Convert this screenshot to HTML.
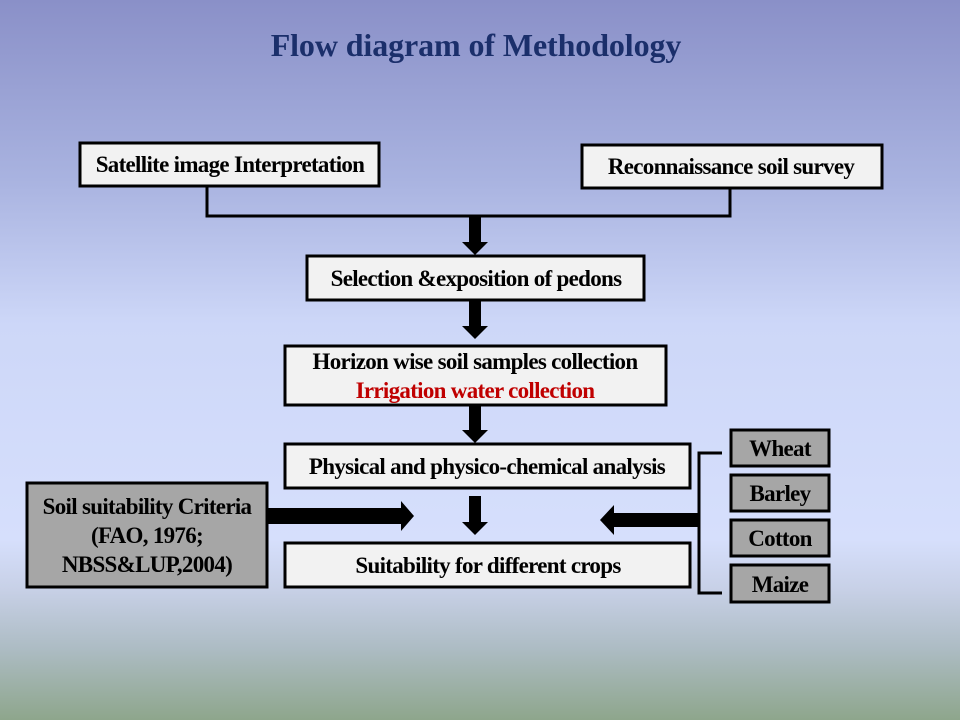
<!DOCTYPE html>
<html><head><meta charset="utf-8"><style>
html,body{margin:0;padding:0;width:960px;height:720px;overflow:hidden}
body{background:linear-gradient(to bottom,#8a90c8 0%,#a9b3e0 25%,#cdd7f8 45%,#d6dffc 75%,#c7d0e6 82%,#adbcc4 90%,#8ea68c 100%)}
svg text{font-family:"Liberation Serif",serif;font-weight:bold;letter-spacing:-0.7px}
</style></head><body>
<svg width="960" height="720" xmlns="http://www.w3.org/2000/svg">
<text x="476" y="56" text-anchor="middle" font-size="32" fill="#1b2f6b" style="letter-spacing:-0.1px">Flow diagram of Methodology</text>
<g stroke="#000" stroke-width="3" fill="#f2f2f2">
<rect x="80" y="143" width="299" height="43"/>
<rect x="582" y="145" width="300" height="43"/>
<rect x="307" y="256" width="337" height="44"/>
<rect x="285" y="346" width="381" height="59"/>
<rect x="285" y="444" width="405" height="44"/>
<rect x="285" y="543" width="405" height="44"/>
</g>
<g stroke="#000" stroke-width="3" fill="#a6a6a6">
<rect x="27" y="483" width="240" height="104"/>
<rect x="731" y="430" width="98" height="36"/>
<rect x="731" y="475" width="98" height="36"/>
<rect x="731" y="520" width="98" height="36"/>
<rect x="731" y="565" width="98" height="37"/>
</g>
<polyline points="207,186 207,216 730,216 730,188" fill="none" stroke="#000" stroke-width="3"/>
<polyline points="722,453 699,453 699,593 722,593" fill="none" stroke="#000" stroke-width="3"/>
<g fill="#000">
<polygon points="469,216 481,216 481,242 488,242 475,255 462,242 469,242"/>
<polygon points="469,300 481,300 481,326 488,326 475,339 462,326 469,326"/>
<polygon points="469,405 481,405 481,430 488,430 475,443 462,430 469,430"/>
<polygon points="469,496 481,496 481,522 488,522 475,535 462,522 469,522"/>
<polygon points="267,508 401,508 401,501 414,516 401,531 401,524 267,524"/>
<polygon points="699,513 614,513 614,505 600,520 614,535 614,527 699,527"/>
</g>
<g font-size="23" fill="#000" text-anchor="middle">
<text x="230" y="172">Satellite image Interpretation</text>
<text x="731" y="174">Reconnaissance soil survey</text>
<text x="476" y="286">Selection &amp;exposition of pedons</text>
<text x="475" y="369">Horizon wise soil samples collection</text>
<text x="475" y="398" fill="#c00000">Irrigation water collection</text>
<text x="487" y="474">Physical and physico-chemical analysis</text>
<text x="488" y="573">Suitability for different crops</text>
<text x="147" y="514">Soil suitability Criteria</text>
<text x="147" y="543">(FAO, 1976;</text>
<text x="147" y="572">NBSS&amp;LUP,2004)</text>
<text x="780" y="456">Wheat</text>
<text x="780" y="501">Barley</text>
<text x="780" y="546">Cotton</text>
<text x="780" y="592">Maize</text>
</g>
</svg>
</body></html>
